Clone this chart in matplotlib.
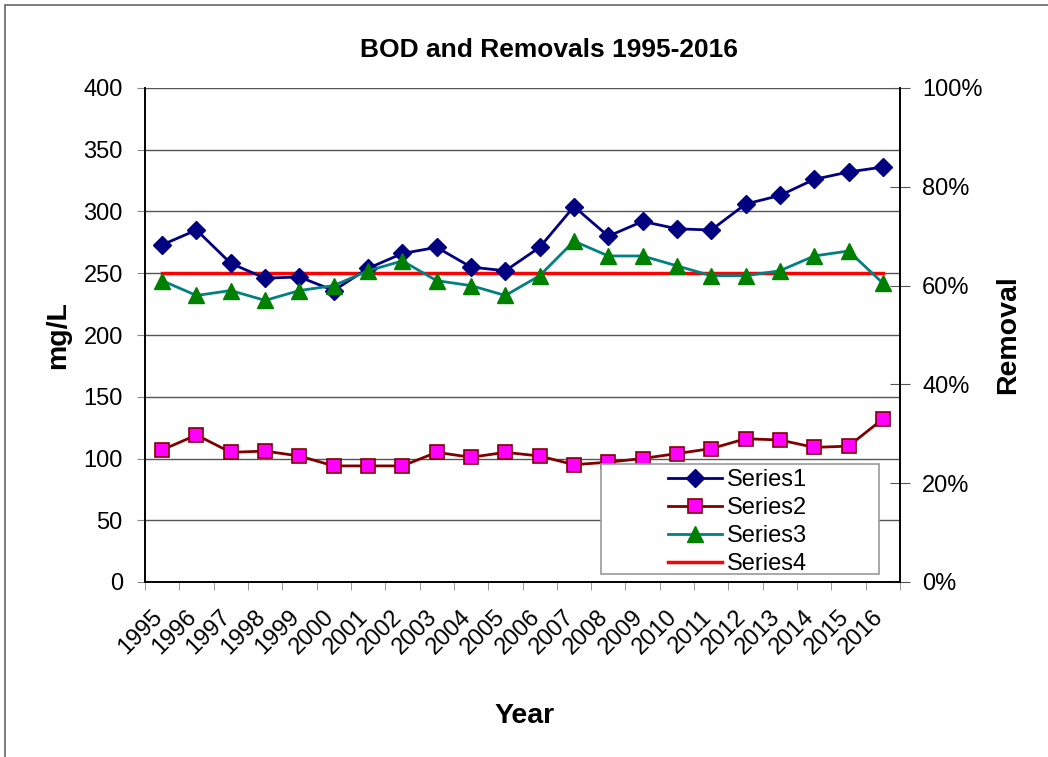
import numpy as np
import matplotlib.pyplot as plt
from matplotlib.patches import Rectangle
from matplotlib.ticker import PercentFormatter, FixedLocator
from matplotlib.transforms import ScaledTranslation

plt.rcParams['font.family'] = ['Liberation Sans', 'DejaVu Sans']

years = [str(y) for y in range(1995, 2017)]
series1 = [273, 285, 258, 246, 247, 236, 254, 266, 271, 255, 252, 271,
           304, 280, 292, 286, 285, 306, 313, 326, 332, 336]
series2 = [107, 119, 105, 106, 102, 94, 94, 94, 105, 101, 105, 102,
           95, 97, 100, 104, 108, 116, 115, 109, 110, 132]
# removal, percent (secondary axis)
series3 = [61, 58, 59, 57, 59, 60, 63, 65, 61, 60, 58, 62,
           69, 66, 66, 64, 62, 62, 63, 66, 67, 60.5]
series4 = [250] * len(years)

fig = plt.figure(figsize=(10.48, 7.57), dpi=100)
ax = fig.add_axes([145/1048, 1-582/757, 755/1048, 494/757])
ax2 = ax.twinx()

x = np.arange(len(years))

ax.plot(x, series1, color='#000080', lw=2, marker='D', ms=9,
        mfc='#000080', mec='#000080', label='Series1', zorder=4)
ax.plot(x, series2, color='#800000', lw=2, marker='s', ms=10,
        mfc='#FF00FF', mec='#800000', mew=1.2, label='Series2', zorder=4)
l3, = ax2.plot(x, series3, color='#008080', lw=2, marker='^', ms=11,
               mfc='#008000', mec='#008000', label='Series3', zorder=3)
ax.plot(x, series4, color='#FF0000', lw=2.5, label='Series4', zorder=3)

ax.set_xlim(-0.5, len(years) - 0.5)
ax.set_ylim(0, 400)
ax2.set_ylim(0, 100)

ax.set_yticks(np.arange(0, 401, 50))
ax.grid(axis='y', color='#555555', lw=1)
ax.set_axisbelow(True)
ax2.set_yticks(np.arange(0, 101, 20))
ax2.yaxis.set_major_formatter(PercentFormatter(decimals=0))

ax.set_xticks(x)
ax.set_xticklabels(years, rotation=45, ha='right', va='top',
                   rotation_mode='anchor', fontsize=17)
ax.tick_params(axis='x', which='major', length=0, pad=12)
shift = ScaledTranslation(-0.11, -0.07, fig.dpi_scale_trans)
for lbl in ax.get_xticklabels():
    lbl.set_transform(lbl.get_transform() + shift)
ax.xaxis.set_minor_locator(FixedLocator(np.arange(-0.5, len(years), 1)))
ax.tick_params(axis='x', which='minor', length=6, color='#888888', direction='out')
ax.tick_params(axis='y', labelsize=17, length=6, color='#888888', pad=10)
ax2.tick_params(axis='y', labelsize=17, length=14, direction='inout',
                color='#555555', pad=9)

for a in (ax, ax2):
    a.spines['top'].set_visible(False)
    for s in ('left', 'right', 'bottom'):
        a.spines[s].set_color('black')
        a.spines[s].set_linewidth(1.2)

ax.set_ylabel('mg/L', fontsize=20.5, fontweight='bold')
ax.yaxis.set_label_coords(-0.098, 0.5)
ax2.set_ylabel('Removal', fontsize=20.5, fontweight='bold', rotation=90)
ax2.yaxis.set_label_coords(1.126, 0.5)
ax.set_xlabel('Year', fontsize=20.5, fontweight='bold')
ax.xaxis.set_label_coords(0.503, -0.245)
ax.set_title('BOD and Removals 1995-2016', fontsize=19, fontweight='bold',
             pad=22, x=0.535)

# legend frame drawn separately so the entries sit to the right like the original
ax2.add_patch(Rectangle(((601-145)/755, (582-574)/494), (879-601)/755, (574-464)/494,
                        transform=ax2.transAxes, facecolor='white', edgecolor='#999999',
                        lw=1.2, zorder=9))
h1, lab1 = ax.get_legend_handles_labels()
handles = [h1[0], h1[1], l3, h1[2]]
labels = ['Series1', 'Series2', 'Series3', 'Series4']
leg = ax2.legend(handles, labels, loc='center left',
                 bbox_to_anchor=((668-145)/755, (582-522)/494),
                 fontsize=17, frameon=False, borderpad=0, labelspacing=0.25,
                 handlelength=2.3, handletextpad=0.2, borderaxespad=0)
leg.set_zorder(10)

fig.patches.append(Rectangle((5/1048, -0.1), 1.2, 1 - 5/757 + 0.1, transform=fig.transFigure,
                             fill=False, edgecolor='#666666', lw=1.2))

fig.savefig('out.png', dpi=100)
